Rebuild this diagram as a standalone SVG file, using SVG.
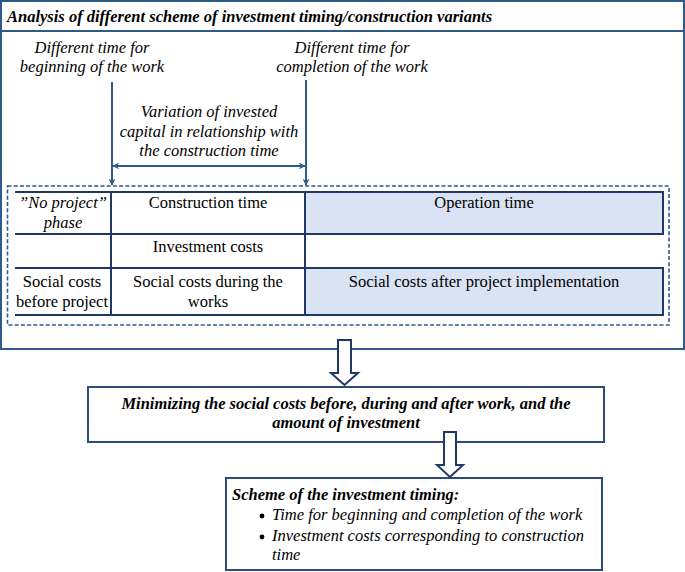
<svg xmlns="http://www.w3.org/2000/svg" width="685" height="572" viewBox="0 0 685 572" font-family="'Liberation Serif', 'DejaVu Serif', serif">
<style>
  text { font-family: 'Liberation Serif', 'DejaVu Serif', serif; font-size: 16.5px; fill: #000; }
  .it { font-style: italic; }
  .bi { font-style: italic; font-weight: bold; }
  .c { text-anchor: middle; }
  .frame { fill: none; stroke: #2E5A8C; stroke-width: 2; }
  .tbl { fill: none; stroke: #1F3864; stroke-width: 2; }
  .cellblue { fill: #DAE3F3; stroke: #1F3864; stroke-width: 2; }
  .dash { fill: none; stroke: #2E5A8C; stroke-width: 1.6; stroke-dasharray: 4 2.2; }
  .conn { fill: none; stroke: #2E5A8C; stroke-width: 2; }
  .hollow { fill: #fff; stroke: #1F3864; stroke-width: 2; stroke-linejoin: miter; }
  .box { fill: #fff; stroke: #2F4B7C; stroke-width: 2; }
</style>
<defs>
  <marker id="ah" viewBox="0 0 10 10" refX="9" refY="5" markerWidth="7" markerHeight="7" markerUnits="userSpaceOnUse" orient="auto-start-reverse">
    <path d="M0,0 L10,5 L0,10 L3,5 z" fill="#2E5A8C"/>
  </marker>
</defs>
<rect x="0" y="0" width="685" height="572" fill="#fff"/>

<g id="analysis-frame">
  <rect class="frame" x="1" y="1" width="683" height="348"/>
  <line class="frame" x1="1" y1="31" x2="684" y2="31"/>
  <text class="bi" x="7" y="22">Analysis of different scheme of investment timing/construction variants</text>
</g>

<g id="label-beginning">
  <text class="it c" x="92" y="53">Different time for</text>
  <text class="it c" x="92" y="72">beginning of the work</text>
</g>
<g id="label-completion">
  <text class="it c" x="352" y="53">Different time for</text>
  <text class="it c" x="352" y="72">completion of the work</text>
</g>
<g id="label-variation">
  <text class="it c" x="209" y="117">Variation of invested</text>
  <text class="it c" x="209" y="137">capital in relationship with</text>
  <text class="it c" x="209" y="156">the construction time</text>
</g>

<g id="table-dashed">
  <rect class="dash" x="7.5" y="186" width="661.5" height="139"/>
</g>

<g id="table">
  <rect class="cellblue" x="305" y="192" width="358" height="42"/>
  <rect class="cellblue" x="305" y="268" width="358" height="47"/>
  <line class="tbl" x1="15" y1="192" x2="663" y2="192"/>
  <line class="tbl" x1="15" y1="234" x2="663" y2="234"/>
  <line class="tbl" x1="15" y1="268" x2="663" y2="268"/>
  <line class="tbl" x1="15" y1="315" x2="663" y2="315"/>
  <line class="tbl" x1="111" y1="192" x2="111" y2="315"/>
  <line class="tbl" x1="305" y1="192" x2="305" y2="315"/>
  <g id="cell-no-project">
    <text class="it c" x="63" y="208">”No project”</text>
    <text class="it c" x="63" y="228">phase</text>
  </g>
  <g id="cell-construction-time"><text class="c" x="208" y="208">Construction time</text></g>
  <g id="cell-operation-time"><text class="c" x="484" y="208">Operation time</text></g>
  <g id="cell-investment-costs"><text class="c" x="208" y="252">Investment costs</text></g>
  <g id="cell-social-before">
    <text class="c" x="62" y="287">Social costs</text>
    <text class="c" x="62" y="307">before project</text>
  </g>
  <g id="cell-social-during">
    <text class="c" x="208" y="287">Social costs during the</text>
    <text class="c" x="208" y="307">works</text>
  </g>
  <g id="cell-social-after"><text class="c" x="484" y="287">Social costs after project implementation</text></g>
</g>

<g id="minimizing">
  <rect class="box" x="88" y="387" width="516" height="55"/>
  <text class="bi c" x="346" y="409">Minimizing the social costs before, during and after work, and the</text>
  <text class="bi c" x="346" y="428">amount of investment</text>
</g>

<g id="scheme">
  <rect class="box" x="226" y="478" width="376" height="92"/>
  <text class="bi" x="232" y="500">Scheme of the investment timing:</text>
  <circle cx="262" cy="516" r="2.4" fill="#000"/>
  <text class="it" x="272" y="520">Time for beginning and completion of the work</text>
  <circle cx="262" cy="537" r="2.4" fill="#000"/>
  <text class="it" x="272" y="541">Investment costs corresponding to construction</text>
  <text class="it" x="272" y="560">time</text>
</g>

<g id="connectors">
  <line class="conn" x1="112" y1="82" x2="112" y2="185" marker-end="url(#ah)"/>
  <line class="conn" x1="306" y1="80" x2="306" y2="185" marker-end="url(#ah)"/>
  <line class="conn" x1="113" y1="166" x2="305" y2="166" marker-start="url(#ah)" marker-end="url(#ah)"/>
  <polygon class="hollow" points="338,340 351,340 351,373 358,373 344.5,385 331,373 338,373"/>
  <polygon class="hollow" points="444,432 456,432 456,465 463,465 450,477 437,465 444,465"/>
</g>
</svg>
